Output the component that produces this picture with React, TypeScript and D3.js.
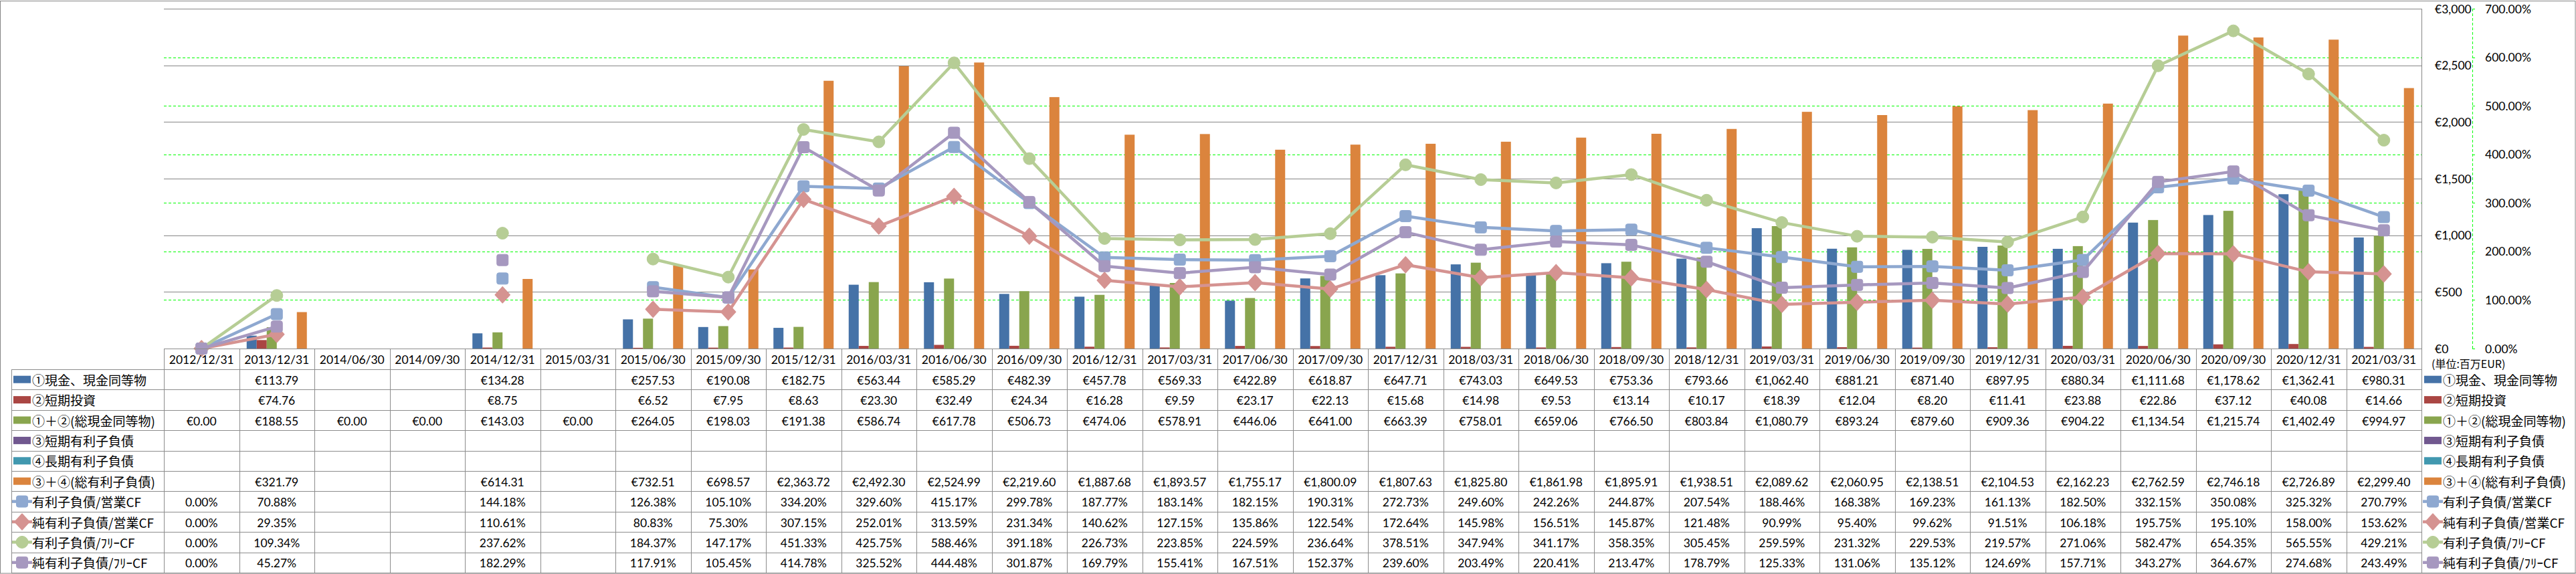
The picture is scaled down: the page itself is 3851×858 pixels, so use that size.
import React from 'react';
import * as d3 from 'd3';

const categories = [
  '2012/12/31', '2013/12/31', '2014/06/30', '2014/09/30', '2014/12/31', '2015/03/31',
  '2015/06/30', '2015/09/30', '2015/12/31', '2016/03/31', '2016/06/30', '2016/09/30',
  '2016/12/31', '2017/03/31', '2017/06/30', '2017/09/30', '2017/12/31', '2018/03/31',
  '2018/06/30', '2018/09/30', '2018/12/31', '2019/03/31', '2019/06/30', '2019/09/30',
  '2019/12/31', '2020/03/31', '2020/06/30', '2020/09/30', '2020/12/31', '2021/03/31',
];

const cash = [null, 113.79, null, null, 134.28, null, 257.53, 190.08, 182.75, 563.44, 585.29, 482.39, 457.78, 569.33, 422.89, 618.87, 647.71, 743.03, 649.53, 753.36, 793.66, 1062.40, 881.21, 871.40, 897.95, 880.34, 1111.68, 1178.62, 1362.41, 980.31];
const shortInvest = [null, 74.76, null, null, 8.75, null, 6.52, 7.95, 8.63, 23.30, 32.49, 24.34, 16.28, 9.59, 23.17, 22.13, 15.68, 14.98, 9.53, 13.14, 10.17, 18.39, 12.04, 8.20, 11.41, 23.88, 22.86, 37.12, 40.08, 14.66];
const totalCash = [0, 188.55, 0, 0, 143.03, 0, 264.05, 198.03, 191.38, 586.74, 617.78, 506.73, 474.06, 578.91, 446.06, 641.00, 663.39, 758.01, 659.06, 766.50, 803.84, 1080.79, 893.24, 879.60, 909.36, 904.22, 1134.54, 1215.74, 1402.49, 994.97];
const shortDebt = [null, null, null, null, null, null, null, null, null, null, null, null, null, null, null, null, null, null, null, null, null, null, null, null, null, null, null, null, null, null];
const longDebt = [null, null, null, null, null, null, null, null, null, null, null, null, null, null, null, null, null, null, null, null, null, null, null, null, null, null, null, null, null, null];
const totalDebt = [null, 321.79, null, null, 614.31, null, 732.51, 698.57, 2363.72, 2492.30, 2524.99, 2219.60, 1887.68, 1893.57, 1755.17, 1800.09, 1807.63, 1825.80, 1861.98, 1895.91, 1938.51, 2089.62, 2060.95, 2138.51, 2104.53, 2162.23, 2762.59, 2746.18, 2726.89, 2299.40];

const debtOpCF = [0, 70.88, null, null, 144.18, null, 126.38, 105.10, 334.20, 329.60, 415.17, 299.78, 187.77, 183.14, 182.15, 190.31, 272.73, 249.60, 242.26, 244.87, 207.54, 188.46, 168.38, 169.23, 161.13, 182.50, 332.15, 350.08, 325.32, 270.79];
const netDebtOpCF = [0, 29.35, null, null, 110.61, null, 80.83, 75.30, 307.15, 252.01, 313.59, 231.34, 140.62, 127.15, 135.86, 122.54, 172.64, 145.98, 156.51, 145.87, 121.48, 90.99, 95.40, 99.62, 91.51, 106.18, 195.75, 195.10, 158.00, 153.62];
const debtFCF = [0, 109.34, null, null, 237.62, null, 184.37, 147.17, 451.33, 425.75, 588.46, 391.18, 226.73, 223.85, 224.59, 236.64, 378.51, 347.94, 341.17, 358.35, 305.45, 259.59, 231.32, 229.53, 219.57, 271.06, 582.47, 654.35, 565.55, 429.21];
const netDebtFCF = [0, 45.27, null, null, 182.29, null, 117.91, 105.45, 414.78, 325.52, 444.48, 301.87, 169.79, 155.41, 167.51, 152.37, 239.60, 203.49, 220.41, 213.47, 178.79, 125.33, 131.06, 135.12, 124.69, 157.71, 343.27, 364.67, 274.68, 243.49];

const seriesNames = [
  '①現金、現金同等物', '②短期投資', '①＋②(総現金同等物)', '③短期有利子負債', '④長期有利子負債', '③＋④(総有利子負債)',
  '有利子負債/営業CF', '純有利子負債/営業CF', '有利子負債/ﾌﾘｰCF', '純有利子負債/ﾌﾘｰCF',
];
const euroTicks = [0, 500, 1000, 1500, 2000, 2500, 3000];
const pctTicks = [0, 100, 200, 300, 400, 500, 600, 700];
const unitLabel = '(単位:百万EUR)';

const W = 3851, H = 858;
const plotL = 245, plotR = 3620, plotT = 13, plotB = 521;
const headerB = 552, rowH = 30.4, tableL = 17;
const NUM_FONT = 'Lato, "Noto Sans", sans-serif';
const CJK_FONT = '"Noto Sans CJK JP", "Noto Sans", sans-serif';

type Row = { name: string; color: string; kind: 'bar' | 'line'; marker?: string; values: (number | null)[]; fmt: (v: number | null) => string };

const eur = (v: number | null) => (v == null ? '' : '€' + d3.format(',.2f')(v));
const pct = (v: number | null) => (v == null ? '' : d3.format('.2f')(v) + '%');

const rows: Row[] = [
  { name: seriesNames[0], color: '#4572A7', kind: 'bar', values: cash, fmt: eur },
  { name: seriesNames[1], color: '#AA4643', kind: 'bar', values: shortInvest, fmt: eur },
  { name: seriesNames[2], color: '#89A54E', kind: 'bar', values: totalCash, fmt: eur },
  { name: seriesNames[3], color: '#71588F', kind: 'bar', values: shortDebt, fmt: eur },
  { name: seriesNames[4], color: '#4198AF', kind: 'bar', values: longDebt, fmt: eur },
  { name: seriesNames[5], color: '#DB843D', kind: 'bar', values: totalDebt, fmt: eur },
  { name: seriesNames[6], color: '#8EA8D0', kind: 'line', marker: 'square', values: debtOpCF, fmt: pct },
  { name: seriesNames[7], color: '#D59391', kind: 'line', marker: 'diamond', values: netDebtOpCF, fmt: pct },
  { name: seriesNames[8], color: '#B6CD95', kind: 'line', marker: 'circle', values: debtFCF, fmt: pct },
  { name: seriesNames[9], color: '#A698BF', kind: 'line', marker: 'square', values: netDebtFCF, fmt: pct },
];

function Marker({ type, cx, cy, color }: { type: string; cx: number; cy: number; color: string }) {
  if (type === 'circle') return <circle cx={cx} cy={cy} r={9} fill={color} stroke={color} strokeWidth={1} />;
  if (type === 'diamond') {
    const p = d3.path();
    p.moveTo(cx, cy - 12); p.lineTo(cx + 11, cy); p.lineTo(cx, cy + 12); p.lineTo(cx - 11, cy); p.closePath();
    return <path d={p.toString()} fill={color} stroke={color} strokeWidth={1.5} strokeLinejoin="round" />;
  }
  return <rect x={cx - 8.5} y={cy - 8.5} width={17} height={17} rx={3} fill={color} stroke={color} strokeWidth={1} />;
}

export default function App() {
  const x = d3.scaleBand<string>().domain(categories).range([plotL, plotR]).padding(0);
  const barRows = rows.filter((r) => r.kind === 'bar');
  const lineRows = rows.filter((r) => r.kind === 'line');
  const xb = d3.scaleBand<string>().domain(barRows.map((r) => r.name)).range([0, x.bandwidth()]).paddingInner(0).paddingOuter(0.75);
  const yE = d3.scaleLinear().domain([0, 3000]).range([plotB, plotT]);
  const yP = d3.scaleLinear().domain([0, 700]).range([plotB, plotT]);
  const cx = (c: string) => (x(c) as number) + x.bandwidth() / 2;
  const rowY = (i: number) => headerB + rowH * (i + 0.5);
  const gridColor = '#868686';
  const tableColor = '#8C8C8C';
  const axisX = 3696;

  const lineGen = (vals: (number | null)[]) =>
    d3.line<number | null>()
      .defined((d) => d != null)
      .x((_, i) => cx(categories[i]))
      .y((d) => yP(d as number))(vals) || '';

  const legendKey = (r: Row, x0: number, y0: number) =>
    r.kind === 'bar' ? (
      <rect x={x0 + 2} y={y0 - 5.5} width={26} height={11} fill={r.color} />
    ) : (
      <g>
        <line x1={x0} x2={x0 + 30} y1={y0} y2={y0} stroke={r.color} strokeWidth={4.5} />
        <Marker type={r.marker!} cx={x0 + 15} cy={y0} color={r.color} />
      </g>
    );

  return (
    <div>
      <style>{`body{margin:0}`}</style>
      <svg width={W} height={H} style={{ display: 'block', background: '#fff' }}>
        <rect x={0.5} y={1.5} width={W - 1.5} height={H - 2.5} fill="#fff" stroke={gridColor} />

        {/* percent gridlines (green dashed) */}
        {pctTicks.filter((t) => t > 0).map((t) => (
          <line key={'pg' + t} x1={plotL} x2={plotR} y1={Math.round(yP(t)) + 0.5} y2={Math.round(yP(t)) + 0.5} stroke="#00FF00" strokeDasharray="4,3" />
        ))}
        {/* euro gridlines (gray) */}
        {euroTicks.map((t) => (
          <line key={'eg' + t} x1={plotL} x2={plotR} y1={Math.round(yE(t)) + 0.5} y2={Math.round(yE(t)) + 0.5} stroke={gridColor} />
        ))}
        <line x1={plotR + 0.5} x2={plotR + 0.5} y1={plotT} y2={plotB} stroke={gridColor} />

        {/* bars */}
        {barRows.map((r) =>
          r.values.map((v, i) =>
            v == null || v === 0 ? null : (
              <rect key={r.name + i} x={(x(categories[i]) as number) + (xb(r.name) as number)} y={yE(v)} width={xb.bandwidth()} height={plotB - yE(v)} fill={r.color} />
            ),
          ),
        )}

        {/* lines */}
        {lineRows.map((r) => (
          <g key={r.name}>
            <path d={lineGen(r.values)} fill="none" stroke={r.color} strokeWidth={4.5} strokeLinejoin="round" strokeLinecap="round" />
            {r.values.map((v, i) => (v == null ? null : <Marker key={i} type={r.marker!} cx={cx(categories[i])} cy={yP(v)} color={r.color} />))}
          </g>
        ))}

        {/* right axes */}
        <line x1={axisX + 0.5} x2={axisX + 0.5} y1={plotT} y2={plotB} stroke="#00FF00" strokeDasharray="4,3" />
        {pctTicks.map((t) => (
          <g key={'pt' + t}>
            <line x1={axisX} x2={axisX + 4} y1={Math.round(yP(t)) + 0.5} y2={Math.round(yP(t)) + 0.5} stroke="#00FF00" />
            <text x={3715} y={yP(t)} dominantBaseline="central" fontFamily={NUM_FONT} fontSize={17.5} fill="#000">{d3.format('.2f')(t) + '%'}</text>
          </g>
        ))}
        {euroTicks.map((t) => (
          <text key={'et' + t} x={3640} y={yE(t)} dominantBaseline="central" fontFamily={NUM_FONT} fontSize={17.5} fill="#000">{'€' + d3.format(',')(t)}</text>
        ))}
        <text x={3635} y={543} dominantBaseline="central" fontFamily={CJK_FONT} fontSize={16} fill="#000">{unitLabel}</text>

        {/* data table */}
        <g stroke={tableColor} strokeWidth={1}>
          <line x1={plotL} x2={plotR} y1={plotB + 0.5} y2={plotB + 0.5} />
          {rows.map((_, i) => (
            <line key={'hr' + i} x1={tableL} x2={plotR} y1={Math.round(headerB + rowH * i) + 0.5} y2={Math.round(headerB + rowH * i) + 0.5} />
          ))}
          <line x1={tableL} x2={W} y1={Math.round(headerB + rowH * rows.length) + 0.5} y2={Math.round(headerB + rowH * rows.length) + 0.5} />
          <line x1={tableL + 0.5} x2={tableL + 0.5} y1={headerB} y2={headerB + rowH * rows.length} />
          {categories.map((c) => (
            <line key={'vc' + c} x1={Math.round(x(c) as number) + 0.5} x2={Math.round(x(c) as number) + 0.5} y1={plotB} y2={headerB + rowH * rows.length} />
          ))}
          <line x1={plotR + 0.5} x2={plotR + 0.5} y1={plotB} y2={headerB + rowH * rows.length} />
        </g>
        {categories.map((c) => (
          <text key={'h' + c} x={cx(c)} y={(plotB + headerB) / 2 + 1} textAnchor="middle" dominantBaseline="central" fontFamily={NUM_FONT} fontSize={17.5} fill="#000">{c}</text>
        ))}
        {rows.map((r, ri) => (
          <g key={'row' + ri}>
            {legendKey(r, tableL + 1, rowY(ri))}
            <text x={48} y={rowY(ri)} dominantBaseline="central" fontFamily={CJK_FONT} fontSize={19} fill="#000">{r.name}</text>
            {r.values.map((v, i) => (
              <text key={i} x={cx(categories[i])} y={rowY(ri) + 1} textAnchor="middle" dominantBaseline="central" fontFamily={NUM_FONT} fontSize={17.5} fill="#000">{r.fmt(v)}</text>
            ))}
            {legendKey(r, 3622, rowY(ri))}
            <text x={3652} y={rowY(ri)} dominantBaseline="central" fontFamily={CJK_FONT} fontSize={19} fill="#000">{r.name}</text>
          </g>
        ))}
      </svg>
    </div>
  );
}
